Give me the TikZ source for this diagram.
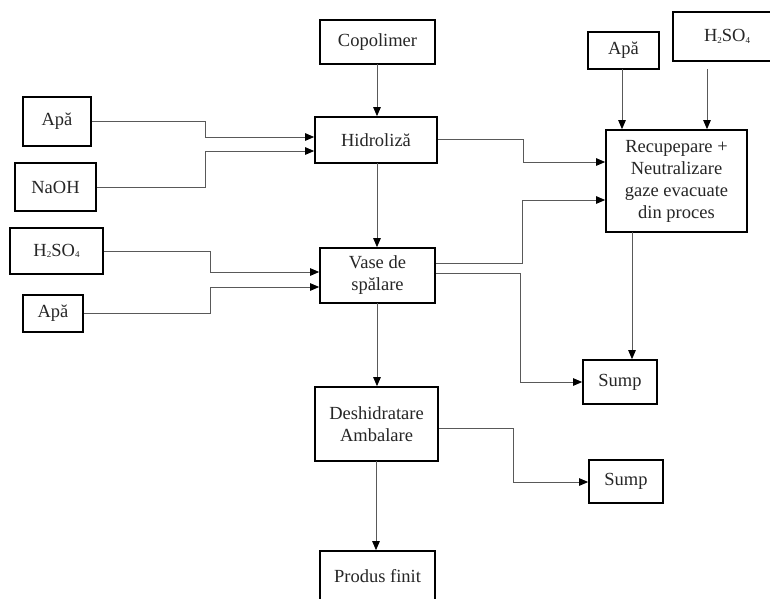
\documentclass[tikz,border=0pt]{standalone}
\usepackage{fontspec}
\setmainfont{Liberation Serif}
\usetikzlibrary{arrows.meta}
\newcommand{\sbs}[1]{\raisebox{-0.15ex}{\fontsize{9}{9}\selectfont #1}}
\begin{document}
\begin{tikzpicture}[x=1pt,y=-1pt,
  box/.style={draw=black, line width=1.7pt, inner sep=0pt, align=center,
    font=\fontsize{18.5}{22}\selectfont, text=black!85},
  conn/.style={draw=black!65, line width=0.9pt,
    -{Triangle[length=9pt,width=7.5pt,color=black]}},
  plain/.style={draw=black!65, line width=0.9pt}]
\useasboundingbox (0,0) rectangle (770,598);
\fill[white] (0,0) rectangle (770,598);
% nodes
\node[box, minimum width=115pt, minimum height=44pt] (cop) at (377.5,42) {Copolimer};
\node[box, minimum width=122pt, minimum height=46pt] (hid) at (376,140) {Hidroliză};
\node[box, minimum width=68pt, minimum height=49pt] (apa1) at (57,121.5) {Apă};
\node[box, minimum width=81pt, minimum height=48pt] (naoh) at (55.5,187) {NaOH};
\node[box, minimum width=93pt, minimum height=46pt] (hsl) at (56.5,251) {H\sbs{2}SO\sbs{4}};
\node[box, minimum width=60pt, minimum height=37pt] (apa2) at (53,313.5) {Apă};
\node[box, minimum width=115pt, minimum height=55pt] (vase) at (377.5,275.5) {Vase de\\spălare};
\node[box, minimum width=141pt, minimum height=102pt] (rec) at (676.5,181) {Recupepare +\\Neutralizare\\gaze evacuate\\din proces};
\node[box, minimum width=71pt, minimum height=37pt] (apar) at (623.5,50.5) {Apă};
\node[box, minimum width=108pt, minimum height=49pt] (hsr) at (727,36.5) {H\sbs{2}SO\sbs{4}};
\node[box, minimum width=74pt, minimum height=44pt] (sump1) at (620,382) {Sump};
\node[box, minimum width=123pt, minimum height=74pt] (desh) at (376.5,424) {Deshidratare\\Ambalare};
\node[box, minimum width=74pt, minimum height=43pt] (sump2) at (626,481.5) {Sump};
\node[box, minimum width=115pt, minimum height=51pt] (prod) at (377.5,576.5) {Produs finit};
% vertical main flow
\draw[conn] (377,64) coordinate (c1) -- (c1 |- hid.north);
\draw[conn] (377,163) coordinate (c2) -- (c2 |- vase.north);
\draw[conn] (377,303) coordinate (c3) -- (c3 |- desh.north);
\draw[conn] (376,461) coordinate (c4) -- (c4 |- prod.north);
% inputs to Hidroliza
\draw[conn] (apa1.east) -- (205,121.5) -- (205,137) -- (hid.west |- 0,137);
\draw[conn] (naoh.east) -- (205,187) -- (205,151) -- (hid.west |- 0,151);
% inputs to Vase
\draw[conn] (hsl.east) -- (210,251) -- (210,272) -- (vase.west |- 0,272);
\draw[conn] (apa2.east) -- (210,313.5) -- (210,287) -- (vase.west |- 0,287);
% to recuperare
\draw[conn] (hid.east |- 0,139) -- (523,139) -- (523,162) -- (rec.west |- 0,162);
\draw[conn] (vase.east |- 0,263) -- (522,263) -- (522,200) -- (rec.west |- 0,200);
\draw[conn] (vase.east |- 0,273) -- (520,273) -- (520,382) -- (sump1.west);
\draw[conn] (622,69) coordinate (c5) -- (c5 |- rec.north);
\draw[conn] (707,69) coordinate (c6) -- (c6 |- rec.north);
\draw[conn] (632,232) coordinate (c7) -- (c7 |- sump1.north);
% deshidratare to sump
\draw[conn] (desh.east |- 0,428) -- (513,428) -- (513,482) -- (sump2.west |- 0,482);
\end{tikzpicture}
\end{document}
